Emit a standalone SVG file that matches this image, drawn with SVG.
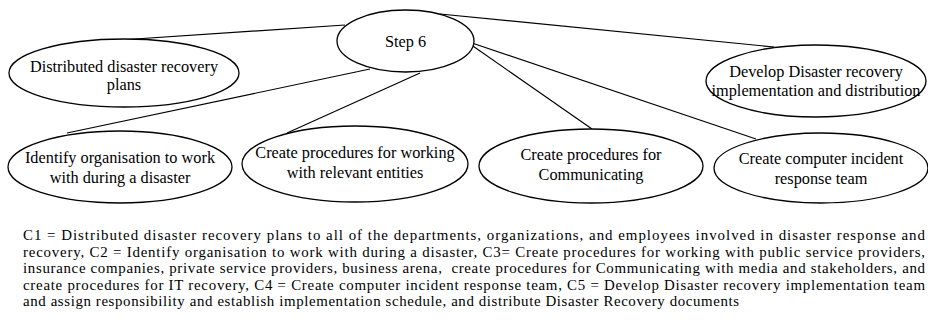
<svg xmlns="http://www.w3.org/2000/svg" width="928" height="323" viewBox="0 0 928 323">
<style>
.n ellipse{fill:#fff;stroke:#000;stroke-width:1.3}
.c line{stroke:#000;stroke-width:1.2}
text{font-family:"Liberation Serif","Times New Roman",serif;fill:#000}
.l{font-size:16.3px;text-anchor:middle}
.b{font-size:14.9px}
</style>
<rect width="928" height="323" fill="#fff"/>
<g id="connectors" class="c">
<line x1="345" y1="25" x2="120" y2="40"/>
<line x1="440" y1="14" x2="774" y2="47"/>
<line x1="370" y1="69" x2="67" y2="133"/>
<line x1="420" y1="73" x2="287" y2="133"/>
<line x1="470" y1="44" x2="592" y2="129"/>
<line x1="472" y1="43" x2="756" y2="139"/>
</g>
<g id="step6" class="n">
<ellipse cx="405.5" cy="41" rx="68.5" ry="31"/>
<text class="l" x="405.5" y="47">Step 6</text>
</g>
<g id="c1" class="n">
<ellipse cx="124" cy="73" rx="115" ry="34"/>
<text class="l" x="124" y="72">Distributed disaster recovery<tspan x="124" dy="18">plans</tspan></text>
</g>
<g id="c5" class="n">
<ellipse cx="816" cy="81" rx="110" ry="36"/>
<text class="l" x="816" y="77">Develop Disaster recovery<tspan x="816" dy="19">implementation and distribution</tspan></text>
</g>
<g id="c2" class="n">
<ellipse cx="120" cy="167" rx="112" ry="36"/>
<text class="l" x="120" y="163">Identify organisation to work<tspan x="120" dy="20">with during a disaster</tspan></text>
</g>
<g id="c3a" class="n">
<ellipse cx="355" cy="164" rx="113" ry="38"/>
<text class="l" x="355" y="158">Create procedures for working<tspan x="355" dy="20">with relevant entities</tspan></text>
</g>
<g id="c3b" class="n">
<ellipse cx="591" cy="166" rx="112" ry="37"/>
<text class="l" x="591" y="160">Create procedures for<tspan x="591" dy="20">Communicating</tspan></text>
</g>
<g id="c4" class="n">
<ellipse cx="821" cy="168" rx="107" ry="35"/>
<text class="l" x="821" y="164">Create computer incident<tspan x="821" dy="20">response team</tspan></text>
</g>
<g id="legend">
<text class="b" xml:space="preserve"><tspan x="23" y="240" textLength="902" lengthAdjust="spacing">C1 = Distributed disaster recovery plans to all of the departments, organizations, and employees involved in disaster response and</tspan><tspan x="23" y="256.6" textLength="902" lengthAdjust="spacing">recovery, C2 = Identify organisation to work with during a disaster, C3= Create procedures for working with public service providers,</tspan><tspan x="23" y="273.2" textLength="902" lengthAdjust="spacing">insurance companies, private service providers, business arena,  create procedures for Communicating with media and stakeholders, and</tspan><tspan x="23" y="289.8" textLength="902" lengthAdjust="spacing">create procedures for IT recovery, C4 = Create computer incident response team, C5 = Develop Disaster recovery implementation team</tspan><tspan x="23" y="306.4" textLength="716" lengthAdjust="spacing">and assign responsibility and establish implementation schedule, and distribute Disaster Recovery documents</tspan></text>
</g>
</svg>
